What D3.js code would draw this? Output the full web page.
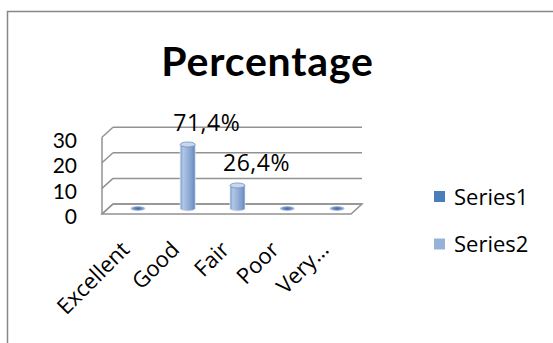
<!DOCTYPE html>
<html>
<head>
<meta charset="utf-8">
<script src="https://cdn.jsdelivr.net/npm/d3@7"></script>
<style>
    body { margin: 0; background: #fff; }
    text { font-family: "Open Sans", Lato, sans-serif; fill: #000; }
    .title, .tick { font-family: Lato, "Open Sans", sans-serif; }
</style>
</head>
<body>
<svg id="chart" width="553" height="343"></svg>
<script>
const categories = ["Excellent", "Good", "Fair", "Poor", "Very…"];
const series1 = [0, 25, 9, 0, 0];
const series2 = [0, 0.714, 0.264, 0, 0];
const yTicks = [0, 10, 20, 30];
const seriesNames = ["Series1", "Series2"];
const seriesColors = ["#4a7ebb", "#95b3d7"];

const svg = d3.select("#chart");

// 3d box: back wall and how far the front edge is shifted
const depth = { dx: -11, dy: 10 };
const x = d3.scaleBand().domain(categories).range([113, 362]);
const y = d3.scaleLinear().domain([0, 30]).range([204, 127.2]);
const pctFormat = v => d3.format(".1%")(v).replace(".", ",");

// frame (only top and left edges show)
svg.append("path")
    .attr("d", "M7.5,343V11.5H553")
    .attr("fill", "none")
    .attr("stroke", "#878787")
    .attr("stroke-width", 1.5);

svg.append("text")
    .attr("class", "title")
    .attr("x", 267.5)
    .attr("y", 76)
    .attr("text-anchor", "middle")
    .attr("font-size", 41)
    .attr("font-weight", "bold")
    .attr("letter-spacing", 0.8)
    .text("Percentage");

const grid = svg.append("g")
    .attr("stroke", "#929292")
    .attr("stroke-width", 1.5)
    .attr("fill", "none");

const [x0, x1] = x.range();

// floor
grid.append("path")
    .attr("fill", "#fff")
    .attr("d", `M${x0},${y(0)}H${x1}L${x1 + depth.dx},${y(0) + depth.dy}H${x0 + depth.dx}Z`);

// back wall lines and side wall diagonals
for (let t of yTicks) {
    grid.append("path").attr("d", `M${x0},${y(t)}H${x1}`);
    grid.append("path").attr("d", `M${x0 + depth.dx},${y(t) + depth.dy}L${x0},${y(t)}`);
}
grid.append("path")
    .attr("d", `M${x0 + depth.dx},${y(0) + depth.dy}V${y(30) + depth.dy}`);

svg.append("g")
    .selectAll("text")
    .data(yTicks)
    .join("text")
    .attr("class", "tick")
    .attr("x", 77)
    .attr("y", d => y(d) + depth.dy + 3)
    .attr("dy", "0.35em")
    .attr("text-anchor", "end")
    .attr("font-size", 21)
    .text(d => d);

// cylinders
const defs = svg.append("defs");
const grad = defs.append("linearGradient").attr("id", "cyl");
[["0%", "#6f91c4"], ["18%", "#b2c7e5"], ["45%", "#9ab4dc"], ["80%", "#7d9dcc"], ["100%", "#5b7fb6"]]
    .forEach(s => grad.append("stop").attr("offset", s[0]).attr("stop-color", s[1]));
const disc = defs.append("radialGradient").attr("id", "disc");
[["0%", "#46679e"], ["55%", "#6d8fc3"], ["100%", "#c4d3ea"]]
    .forEach(s => disc.append("stop").attr("offset", s[0]).attr("stop-color", s[1]));

const barW = 15;
const ry = 2.5;
const lift = 4.5; // bars stand a little in front of the back wall
const base = y(0) + lift;
const barTop = v => y(v) + lift;

const bars = svg.append("g")
    .selectAll("g")
    .data(series1.map((v, i) => ({ cat: categories[i], v, pct: series2[i] })))
    .join("g")
    .attr("transform", d => `translate(${x(d.cat) + x.bandwidth() / 2},0)`);

bars.filter(d => d.v > 0).append("path")
    .attr("fill", "url(#cyl)")
    .attr("stroke", "#dfe7f3")
    .attr("stroke-width", 0.8)
    .attr("d", d => `M${-barW / 2},${barTop(d.v)}V${base}A${barW / 2},${ry} 0 0 0 ${barW / 2},${base}V${barTop(d.v)}Z`);

bars.filter(d => d.v > 0).append("ellipse")
    .attr("cy", d => barTop(d.v))
    .attr("rx", barW / 2)
    .attr("ry", ry)
    .attr("fill", "#c9d7ec")
    .attr("stroke", "#6f8fc2")
    .attr("stroke-width", 0.8);

bars.filter(d => d.v === 0).append("ellipse")
    .attr("cy", base)
    .attr("rx", barW / 2)
    .attr("ry", ry)
    .attr("fill", "url(#disc)");

bars.filter(d => d.pct > 0).append("text")
    .attr("x", 19)
    .attr("y", d => barTop(d.v) - 14)
    .attr("text-anchor", "middle")
    .attr("font-size", 23)
    .attr("letter-spacing", 0.5)
    .text(d => pctFormat(d.pct));

// category labels
svg.append("g")
    .selectAll("text")
    .data(categories)
    .join("text")
    .attr("text-anchor", "end")
    .attr("font-size", 22)
    .attr("transform", d => `translate(${x(d) + x.bandwidth() / 2 - 7},251) rotate(-45)`)
    .text(d => d);

// legend
const legend = svg.append("g")
    .selectAll("g")
    .data(seriesNames)
    .join("g")
    .attr("transform", (d, i) => `translate(434,${191 + i * 47.5})`);

legend.append("rect")
    .attr("width", 11)
    .attr("height", 11)
    .attr("fill", (d, i) => seriesColors[i]);

legend.append("text")
    .attr("x", 20)
    .attr("y", 13.5)
    .attr("font-size", 22)
    .text(d => d);
</script>
</body>
</html>
